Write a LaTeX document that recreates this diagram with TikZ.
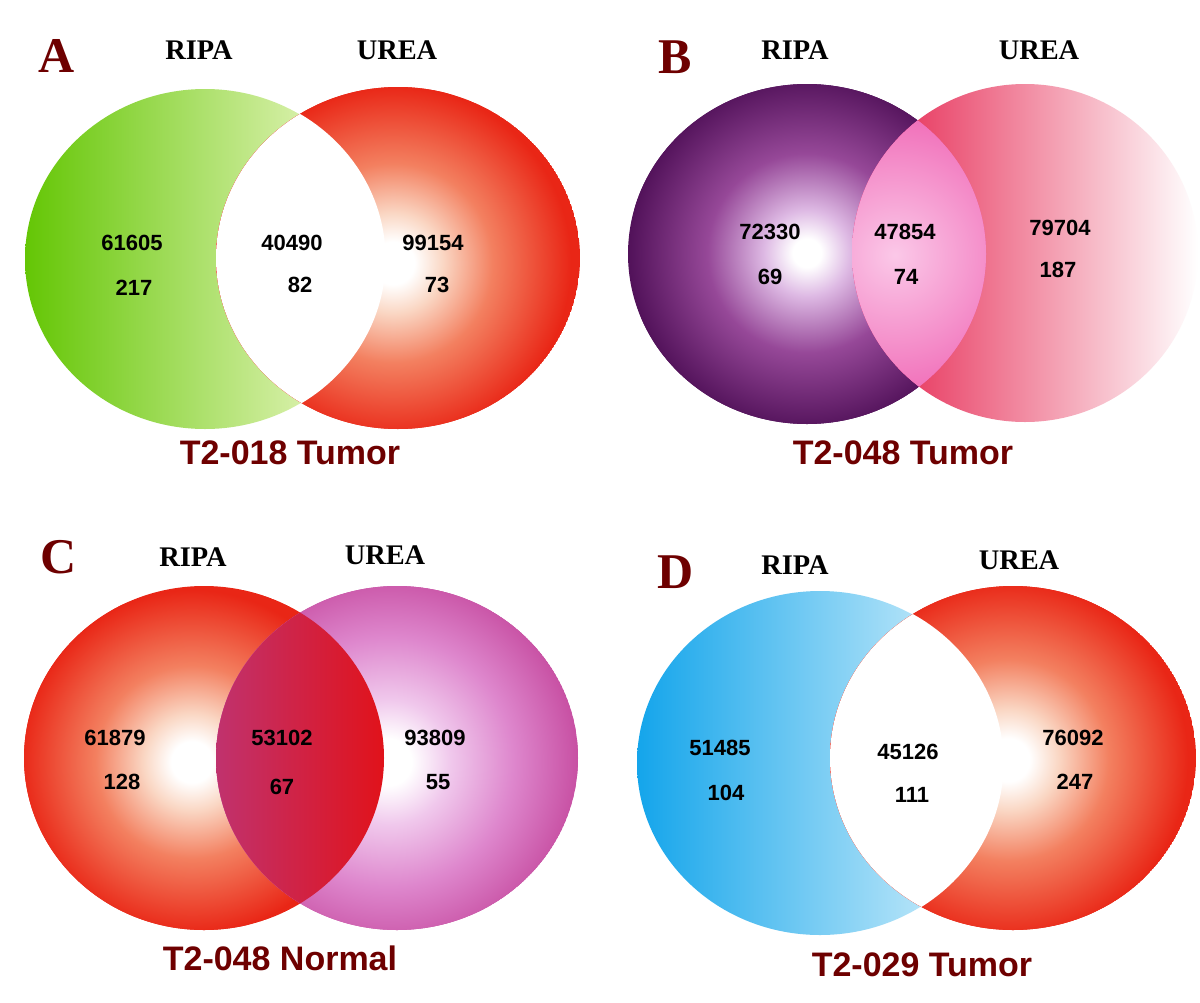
\documentclass[tikz,border=0pt]{standalone}
\usepackage{fontspec}
\setmainfont{Liberation Serif}
\newfontfamily\numfont{Liberation Sans}
\usetikzlibrary{positioning}
\definecolor{VennMaroon}{RGB}{110,0,0}
\definecolor{VennGreen}{RGB}{100,198,5}
\definecolor{VennPaleGreen}{RGB}{248,252,215}
\definecolor{VennRed}{RGB}{233,38,22}
\definecolor{VennPeach}{RGB}{250,215,196}
\definecolor{VennSalmon}{RGB}{243,128,96}
\definecolor{VennPurple}{RGB}{82,18,90}
\definecolor{VennViolet}{RGB}{150,72,152}
\definecolor{VennLilac}{RGB}{222,186,228}
\definecolor{VennCrimson}{RGB}{228,25,70}
\definecolor{VennRose}{RGB}{233,68,104}
\definecolor{VennLensPink}{RGB}{240,105,182}
\definecolor{VennLensLight}{RGB}{251,200,232}
\definecolor{VennMagenta}{RGB}{198,76,160}
\definecolor{VennOrchid}{RGB}{222,135,205}
\definecolor{VennBlush}{RGB}{240,200,236}
\definecolor{VennPlum}{RGB}{192,50,110}
\definecolor{VennBlood}{RGB}{182,10,45}
\definecolor{VennScarlet}{RGB}{225,18,25}
\definecolor{VennBlue}{RGB}{20,165,235}
\definecolor{VennPaleBlue}{RGB}{225,245,252}
\pgfdeclareradialshading{redglow}{\pgfpointorigin}{color(0bp)=(white); color(3bp)=(white); color(7bp)=(VennPeach); color(14bp)=(VennSalmon); color(25bp)=(VennRed); color(50bp)=(VennRed)}
\pgfdeclareradialshading{purpleglow}{\pgfpointorigin}{color(0bp)=(white); color(2bp)=(white); color(6bp)=(VennLilac); color(14bp)=(VennViolet); color(25bp)=(VennPurple); color(50bp)=(VennPurple)}
\pgfdeclareradialshading{magentaglow}{\pgfpointorigin}{color(0bp)=(white); color(3bp)=(white); color(8bp)=(VennBlush); color(16bp)=(VennOrchid); color(25bp)=(VennMagenta); color(50bp)=(VennMagenta)}
\tikzset{
  panellbl/.style={font=\fontsize{25}{30}\selectfont\bfseries, text=VennMaroon, inner sep=0pt},
  setlbl/.style={font=\fontsize{14.2}{17}\selectfont\bfseries, inner sep=0pt},
  countlbl/.style={font=\numfont\fontsize{11}{13}\selectfont\bfseries, inner sep=0pt},
  samplelbl/.style={font=\numfont\fontsize{17}{20}\selectfont\bfseries, text=VennMaroon, inner sep=0pt}
}
\begin{document}
\begin{tikzpicture}[x=0.5pt,y=-0.5pt]
\useasboundingbox (0,0) rectangle (1200,1002);
\fill[white] (0,0) rectangle (1200,1002);
% A
\shade[left color=VennGreen, right color=VennPaleGreen] (205,259) ellipse [x radius=180, y radius=170];
\begin{scope}
  \clip (398,258) ellipse [x radius=182, y radius=171];
  \fill[VennRed] (398,258) ellipse [x radius=182, y radius=171];
  \shade[shading=redglow] (393,263) circle (178);
  \fill[white] (205,259) ellipse [x radius=180.6, y radius=170.6];
\end{scope}
% B
\begin{scope}
  \clip (807,254) ellipse [x radius=179, y radius=170];
  \fill[VennPurple] (807,254) ellipse [x radius=179, y radius=170];
  \shade[shading=purpleglow] (807,253) circle (178);
\end{scope}
\shade[left color=VennCrimson, middle color=VennRose, right color=white] (1025,253) ellipse [x radius=173, y radius=169];
\begin{scope}
  \clip (807,254) ellipse [x radius=179, y radius=170];
  \clip (1025,253) ellipse [x radius=173, y radius=169];
  \fill[VennLensPink] (852,80) rectangle (990,430);
  \shade[inner color=VennLensLight, outer color=VennLensPink] (895,255) circle (150);
\end{scope}
% C
\begin{scope}
  \clip (204,758) ellipse [x radius=180, y radius=172];
  \fill[VennRed] (204,758) ellipse [x radius=180, y radius=172];
  \shade[shading=redglow] (192,762) circle (172);
\end{scope}
\begin{scope}
  \clip (397,758) ellipse [x radius=181, y radius=172];
  \fill[VennMagenta] (397,758) ellipse [x radius=181, y radius=172];
  \shade[shading=magentaglow] (388,762) circle (195);
\end{scope}
\begin{scope}
  \clip (204,758) ellipse [x radius=180, y radius=172];
  \clip (397,758) ellipse [x radius=181, y radius=172];
  \shade[left color=VennPlum, middle color=VennBlood, right color=VennScarlet] (216,580) rectangle (386,940);
\end{scope}
% D
\shade[left color=VennBlue, right color=VennPaleBlue] (820,763) ellipse [x radius=183, y radius=172];
\begin{scope}
  \clip (1013,758) ellipse [x radius=183, y radius=172];
  \fill[VennRed] (1013,758) ellipse [x radius=183, y radius=172];
  \shade[shading=redglow] (1008,760) circle (180);
  \fill[white] (820,763) ellipse [x radius=183.6, y radius=172.6];
\end{scope}

\node[panellbl] (lblA) at (57,56) {A};
\node[setlbl] (ripaA) at (199,50) {RIPA};
\node[setlbl] (ureaA) at (397,50) {UREA};
\node[countlbl] (leftA) at (132,243) {61605};
\node[countlbl] (leftA2) at (134,288) {217};
\node[countlbl] (midA) at (292,243) {40490};
\node[countlbl] (midA2) at (300,285) {82};
\node[countlbl] (rightA) at (433,243) {99154};
\node[countlbl] (rightA2) at (437,285) {73};
\node[samplelbl] (titleA) at (290,453) {T2-018 Tumor};

\node[panellbl] (lblB) at (675,57) {B};
\node[setlbl] (ripaB) at (795,50) {RIPA};
\node[setlbl] (ureaB) at (1039,50) {UREA};
\node[countlbl] (leftB) at (770,232) {72330};
\node[countlbl] (leftB2) at (770,277) {69};
\node[countlbl] (midB) at (905,232) {47854};
\node[countlbl] (midB2) at (906,277) {74};
\node[countlbl] (rightB) at (1060,228) {79704};
\node[countlbl] (rightB2) at (1058,270) {187};
\node[samplelbl] (titleB) at (903,453) {T2-048 Tumor};

\node[panellbl] (lblC) at (59,557) {C};
\node[setlbl] (ripaC) at (193,557) {RIPA};
\node[setlbl] (ureaC) at (385,555) {UREA};
\node[countlbl] (leftC) at (115,738) {61879};
\node[countlbl] (leftC2) at (122,782) {128};
\node[countlbl] (midC) at (282,738) {53102};
\node[countlbl] (midC2) at (282,787) {67};
\node[countlbl] (rightC) at (435,738) {93809};
\node[countlbl] (rightC2) at (438,782) {55};
\node[samplelbl] (titleC) at (280,958) {T2-048 Normal};

\node[panellbl] (lblD) at (676,572) {D};
\node[setlbl] (ripaD) at (795,565) {RIPA};
\node[setlbl] (ureaD) at (1019,560) {UREA};
\node[countlbl] (leftD) at (720,748) {51485};
\node[countlbl] (leftD2) at (726,793) {104};
\node[countlbl] (midD) at (908,752) {45126};
\node[countlbl] (midD2) at (912,795) {111};
\node[countlbl] (rightD) at (1073,738) {76092};
\node[countlbl] (rightD2) at (1075,782) {247};
\node[samplelbl] (titleD) at (922,965) {T2-029 Tumor};
\end{tikzpicture}
\end{document}
